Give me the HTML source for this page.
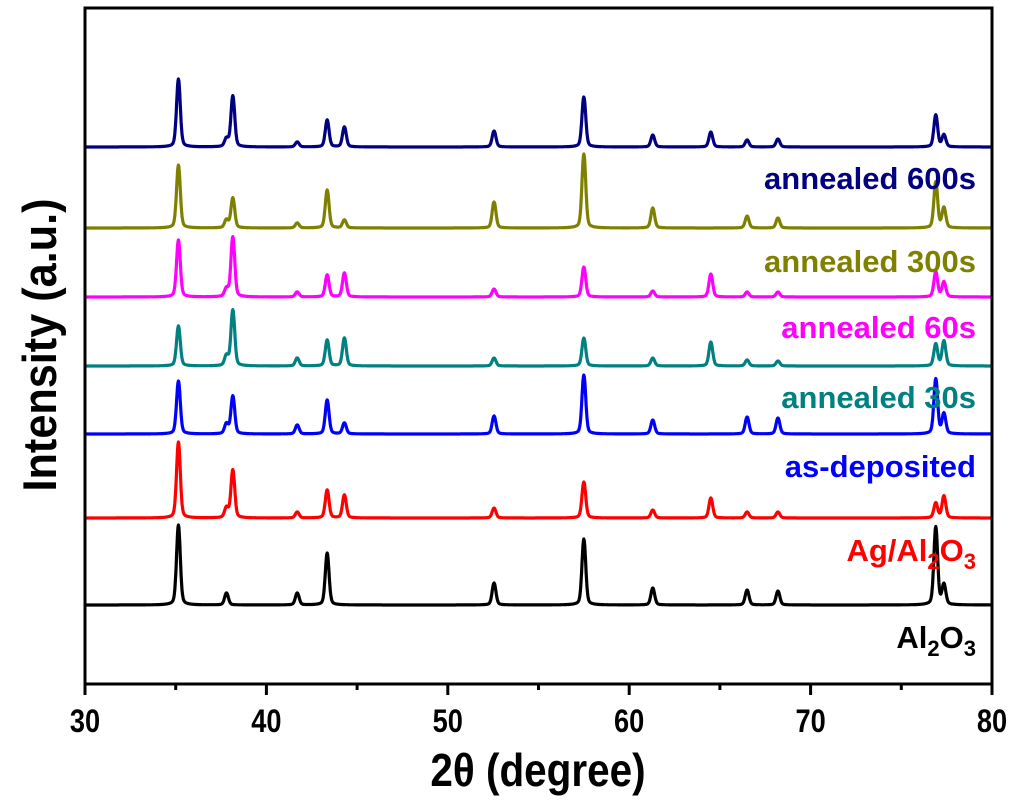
<!DOCTYPE html>
<html><head><meta charset="utf-8"><style>
body{margin:0;background:#fff;}
svg text{font-family:"Liberation Sans",Arial,sans-serif;font-weight:bold;}
</style></head><body>
<svg id="chart" width="1024" height="805" viewBox="0 0 1024 805">
<g id="series"></g>
<rect x="85" y="8" width="907" height="676" fill="none" stroke="#000" stroke-width="3"/>
<g id="xaxis"></g>
<text x="538" y="786" text-anchor="middle" font-size="46" transform="translate(538 0) scale(0.88 1) translate(-538 0)">2θ (degree)</text>
<text transform="translate(56 345) rotate(-90) scale(0.92 1)" text-anchor="middle" font-size="47">Intensity (a.u.)</text>
<g font-size="31" text-anchor="end">
<text x="976" y="189" fill="#000080">annealed 600s</text>
<text x="976" y="272" fill="#808000">annealed 300s</text>
<text x="976" y="338" fill="#ff00ff">annealed 60s</text>
<text x="976" y="408" fill="#008080">annealed 30s</text>
<text x="976" y="477" fill="#0000ff">as-deposited</text>
<text x="976" y="561" fill="#ff0000">Ag/Al<tspan font-size="22" dy="8">2</tspan><tspan dy="-8">O</tspan><tspan font-size="22" dy="8">3</tspan></text>
<text x="976" y="648" fill="#000">Al<tspan font-size="22" dy="8">2</tspan><tspan dy="-8">O</tspan><tspan font-size="22" dy="8">3</tspan></text>
</g>
</svg>
<script>
const peakPositions=[35.15,37.8,38.15,41.7,43.35,44.3,52.55,57.5,61.3,64.5,66.5,68.2,76.9,77.35];
const seriesNames=["annealed-600s","annealed-300s","annealed-60s","annealed-30s","as-deposited","ag-al2o3","al2o3"];
const seriesColors=["#000080","#808000","#ff00ff","#008080","#0000ff","#ff0000","#000000"];
const seriesOffsets=[537,456,387,318,250,166,79];
const h600=[68,8,51,5,27,20,16,50,12,15,7,8,32,12];
const h300=[63,8,30,5,38,8,26,74,20,0,12,10,46,20];
const h60=[57,8,60,5,22,24,8,30,6,23,5,5,25,15];
const h30=[40,10,56,8,26,28,8,28,8,24,6,5,22,25];
const hAsDep=[53,10,38,9,34,11,18,59,14,0,17,16,55,20];
const hAgAl=[76,10,48,6,28,23,10,36,8,20,6,6,15,22];
const hAl=[80,12,0,12,52,0,22,66,17,0,15,14,78,20];
const seriesHeights=[h600,h300,h60,h30,hAsDep,hAgAl,hAl];
const xTicks=[30,40,50,60,70,80];
const xMinor=[35,45,55,65,75];

const X0=85,X1=992,Y0=684,Y1=8,XMIN=30,XMAX=80,YMIN=0,YMAX=676;
const sx=v=>X0+(v-XMIN)/(XMAX-XMIN)*(X1-X0);
const sy=v=>Y0-(v-YMIN)/(YMAX-YMIN)*(Y0-Y1);
const NS="http://www.w3.org/2000/svg";
const g=document.getElementById('series');
seriesNames.forEach((name,i)=>{
  let d="";
  for(let t=30;t<=80.001;t+=0.025){
    let y=seriesOffsets[i];
    peakPositions.forEach((p,k)=>{const w=0.1;const dx=(t-p)/w;y+=seriesHeights[i][k]*Math.exp(-dx*dx/2)*0.85+seriesHeights[i][k]*0.15/(1+dx*dx/4);});
    d+=(d?"L":"M")+sx(t).toFixed(1)+" "+sy(y).toFixed(1);
  }
  const path=document.createElementNS(NS,'path');
  path.setAttribute('d',d);path.setAttribute('fill','none');
  path.setAttribute('stroke',seriesColors[i]);path.setAttribute('stroke-width','3.2');
  path.setAttribute('stroke-linejoin','round');
  
  
  g.appendChild(path);
});
const xa=document.getElementById('xaxis');
xTicks.forEach(v=>{
  const l=document.createElementNS(NS,'line');
  l.setAttribute('x1',sx(v));l.setAttribute('x2',sx(v));l.setAttribute('y1',Y0);l.setAttribute('y2',Y0+11);
  l.setAttribute('stroke','#000');l.setAttribute('stroke-width','3');
  
  
  xa.appendChild(l);
  const t=document.createElementNS(NS,'text');
  t.setAttribute('x',sx(v));t.setAttribute('y',732);t.setAttribute('text-anchor','middle');
  t.setAttribute('font-size','32');t.textContent=v;
  t.setAttribute('transform','translate('+sx(v)+' 0) scale(0.85 1) translate('+(-sx(v))+' 0)');
  
  
  xa.appendChild(t);
});
xMinor.forEach(v=>{
  const l=document.createElementNS(NS,'line');
  l.setAttribute('x1',sx(v));l.setAttribute('x2',sx(v));l.setAttribute('y1',Y0);l.setAttribute('y2',Y0+6);
  l.setAttribute('stroke','#000');l.setAttribute('stroke-width','3');
  
  
  xa.appendChild(l);
});
</script>
</body></html>
